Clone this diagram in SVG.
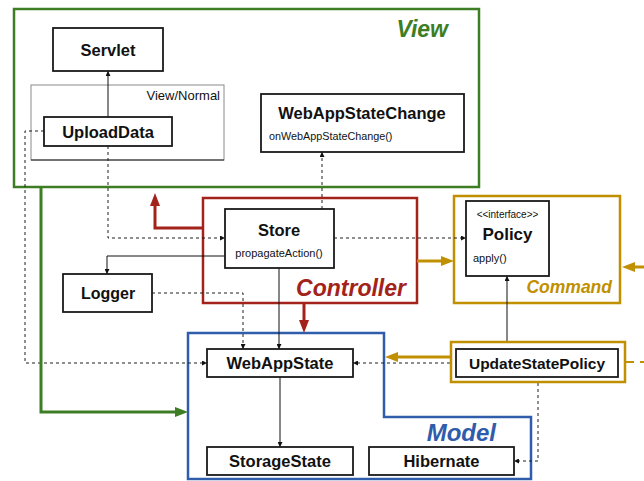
<svg xmlns="http://www.w3.org/2000/svg" width="644" height="481" viewBox="0 0 644 481">
  <style>
    .box { fill: #ffffff; stroke: #1a1a1a; stroke-width: 1.8; }
    .t { font-family: "Liberation Sans", Arial, sans-serif; fill: #111111; }
    .b { font-weight: bold; }
    .frame-label { font-family: "Liberation Sans", Arial, sans-serif; font-weight: bold; font-style: italic; }
    .thin { fill: none; stroke: #111111; stroke-width: 1; marker-end: url(#tip); }
    .dash { fill: none; stroke: #1e1e1e; stroke-width: 1; stroke-dasharray: 3 3; marker-end: url(#tip); }
    .thick { fill: none; stroke-width: 3; }
  </style>
  <defs>
    <marker id="tip" viewBox="0 0 5 5" refX="5" refY="2.5" markerWidth="5" markerHeight="5" markerUnits="userSpaceOnUse" orient="auto">
      <path d="M0,0 L5,2.5 L0,5 z" fill="#111111"/>
    </marker>
    <marker id="head-red" viewBox="0 0 13 10" refX="0" refY="5" markerWidth="13" markerHeight="10" markerUnits="userSpaceOnUse" orient="auto">
      <path d="M0,0 L13,5 L0,10 z" fill="#a3231a"/>
    </marker>
    <marker id="head-gold" viewBox="0 0 13 10" refX="0" refY="5" markerWidth="13" markerHeight="10" markerUnits="userSpaceOnUse" orient="auto">
      <path d="M0,0 L13,5 L0,10 z" fill="#c09000"/>
    </marker>
    <marker id="head-green" viewBox="0 0 13 10" refX="0" refY="5" markerWidth="13" markerHeight="10" markerUnits="userSpaceOnUse" orient="auto">
      <path d="M0,0 L13,5 L0,10 z" fill="#3d7e24"/>
    </marker>
  </defs>

  <!-- Package frames -->
  <g id="view-frame">
    <rect x="14" y="9" width="465" height="178" fill="none" stroke="#3d7e24" stroke-width="2.5"/>
    <text class="frame-label" x="448" y="37" text-anchor="end" font-size="23" fill="#3d7e24">View</text>
  </g>
  <g id="view-normal">
    <rect x="31" y="85" width="193" height="75" fill="none" stroke="#8a8a8a" stroke-width="1"/>
    <line x1="31" y1="160" x2="224" y2="160" stroke="#222222" stroke-width="1"/>
    <text class="t" x="220" y="100" text-anchor="end" font-size="13">View/Normal</text>
  </g>
  <g id="controller-frame">
    <rect x="203" y="198" width="214" height="105" fill="none" stroke="#a3231a" stroke-width="2.5"/>
    <text class="frame-label" x="406" y="296" text-anchor="end" font-size="23" fill="#a3231a">Controller</text>
  </g>
  <g id="command-frame">
    <rect x="454" y="196" width="166" height="107" fill="none" stroke="#c09000" stroke-width="2.5"/>
    <text class="frame-label" x="612" y="293" text-anchor="end" font-size="17.5" fill="#c09000">Command</text>
  </g>
  <g id="model-frame">
    <path d="M188,333 H384 V417 H531 V479 H188 Z" fill="none" stroke="#2f5cab" stroke-width="2.5"/>
    <text class="frame-label" x="496" y="441" text-anchor="end" font-size="24" fill="#2f5cab">Model</text>
  </g>

  <!-- Connectors -->
  <g id="connectors">
    <path class="thin" d="M108,117 V71"/>
    <path class="dash" d="M44,131 H25 V363 H207"/>
    <path class="dash" d="M108,146 V238 H225"/>
    <path class="dash" d="M322,209 V152"/>
    <path class="thin" d="M225,256 H107 V274"/>
    <path class="dash" d="M152,293 H243 V349" stroke="#555555"/>
    <path class="thin" d="M279,268 V349"/>
    <path class="dash" d="M334,238 H466"/>
    <path class="thin" d="M280,377 V447"/>
    <path class="thin" d="M507,342 V276" stroke="#444444"/>
    <path class="dash" d="M456,363 H353"/>
    <path class="dash" d="M538,377 V461 H514"/>

    <path class="thick" d="M203,228 H155 V206" stroke="#a3231a" marker-end="url(#head-red)"/>
    <path class="thick" d="M304,303 V320" stroke="#a3231a" marker-end="url(#head-red)"/>
    <path class="thick" d="M417,261 H441" stroke="#c09000" marker-end="url(#head-gold)"/>
    <path class="thick" d="M644,267 H635" stroke="#c09000" marker-end="url(#head-gold)"/>
    <path class="thick" d="M451,357 H398" stroke="#c09000" marker-end="url(#head-gold)"/>
    <path d="M625,362 H644" fill="none" stroke="#c09000" stroke-width="2" stroke-dasharray="9 6"/>
    <path class="thick" d="M41,187 V412 H175" stroke="#3d7e24" marker-end="url(#head-green)"/>
  </g>

  <!-- Nodes -->
  <g id="servlet">
    <rect class="box" x="53" y="28" width="110" height="43"/>
    <text class="t b" x="108" y="56" text-anchor="middle" font-size="16.5">Servlet</text>
  </g>
  <g id="upload-data">
    <rect class="box" x="44" y="117" width="128" height="29"/>
    <text class="t b" x="108" y="137.5" text-anchor="middle" font-size="16.5">UploadData</text>
  </g>
  <g id="web-app-state-change">
    <rect class="box" x="261" y="94" width="203" height="58"/>
    <text class="t b" x="362" y="119" text-anchor="middle" font-size="16.5">WebAppStateChange</text>
    <text class="t" x="269" y="140" font-size="10.8">onWebAppStateChange()</text>
  </g>
  <g id="store">
    <rect class="box" x="225" y="209" width="109" height="59"/>
    <text class="t b" x="279" y="236" text-anchor="middle" font-size="16.5">Store</text>
    <text class="t" x="279" y="257" text-anchor="middle" font-size="11">propagateAction()</text>
  </g>
  <g id="logger">
    <rect class="box" x="63" y="274" width="89" height="38"/>
    <text class="t b" x="108" y="299" text-anchor="middle" font-size="16">Logger</text>
  </g>
  <g id="policy">
    <rect class="box" x="466" y="201" width="83" height="75"/>
    <text class="t" x="507.5" y="218" text-anchor="middle" font-size="10">&lt;&lt;interface&gt;&gt;</text>
    <text class="t b" x="507.5" y="240" text-anchor="middle" font-size="17">Policy</text>
    <text class="t" x="473" y="262" font-size="11">apply()</text>
  </g>
  <g id="web-app-state">
    <rect class="box" x="207" y="349" width="146" height="28"/>
    <text class="t b" x="280" y="369" text-anchor="middle" font-size="16.5">WebAppState</text>
  </g>
  <g id="update-state-policy">
    <rect x="451" y="342" width="174" height="40" fill="#ffffff" stroke="#c09000" stroke-width="2.5"/>
    <rect class="box" x="456" y="349" width="162" height="28"/>
    <text class="t b" x="537" y="369" text-anchor="middle" font-size="15.5">UpdateStatePolicy</text>
  </g>
  <g id="storage-state">
    <rect class="box" x="207" y="447" width="146" height="28"/>
    <text class="t b" x="280" y="467" text-anchor="middle" font-size="16.5">StorageState</text>
  </g>
  <g id="hibernate">
    <rect class="box" x="369" y="447" width="145" height="28"/>
    <text class="t b" x="441.5" y="467" text-anchor="middle" font-size="16.5">Hibernate</text>
  </g>
</svg>
